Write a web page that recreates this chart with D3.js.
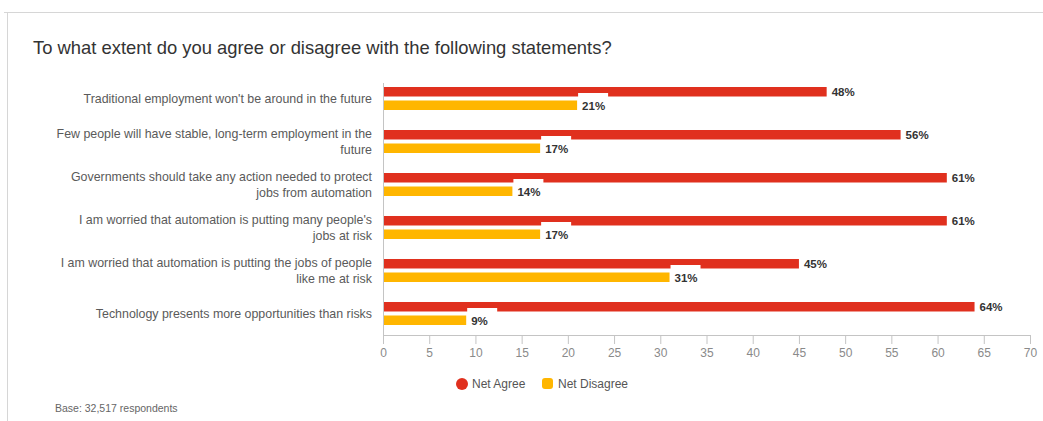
<!DOCTYPE html>
<html>
<head>
<meta charset="utf-8">
<script src="https://cdn.jsdelivr.net/npm/d3@7"></script>
<style>
  body { margin: 0; background: #fff; }
  svg { display: block; font-family: "Liberation Sans", Arial, sans-serif; }
</style>
</head>
<body>
<svg width="1043" height="421"></svg>
<script>
// statements, top to bottom
const statements = [
  ["Traditional employment won't be around in the future"],
  ["Few people will have stable, long-term employment in the", "future"],
  ["Governments should take any action needed to protect", "jobs from automation"],
  ["I am worried that automation is putting many people's", "jobs at risk"],
  ["I am worried that automation is putting the jobs of people", "like me at risk"],
  ["Technology presents more opportunities than risks"]
];
const netAgree = [48, 56, 61, 61, 45, 64];
const netDisagree = [21, 17, 14, 17, 31, 9];
const seriesNames = ["Net Agree", "Net Disagree"];
const seriesColors = ["#e0301e", "#ffb600"];
const xTicks = d3.range(0, 71, 5);

const svg = d3.select("svg");

// frame
svg.append("line").attr("x1", 4).attr("x2", 1043).attr("y1", 12.5).attr("y2", 12.5)
   .attr("stroke", "#d6d6d6");
svg.append("line").attr("x1", 7.5).attr("x2", 7.5).attr("y1", 12).attr("y2", 421)
   .attr("stroke", "#d6d6d6");

svg.append("text")
   .attr("x", 33).attr("y", 54)
   .attr("fill", "#333")
   .style("font-size", "18.4px")
   .text("To what extent do you agree or disagree with the following statements?");

const plotL = 383, plotT = 85, plotH = 250;
const x = d3.scaleLinear().domain([0, 70]).range([plotL, 1030]);
const y = d3.scaleBand().domain(d3.range(statements.length))
            .range([87, 325]).paddingInner(0.465).paddingOuter(0);

// x axis
const xAxis = svg.append("g")
   .attr("transform", `translate(0, ${plotT + plotH})`)
   .call(d3.axisBottom(x).tickValues(xTicks).tickSize(9).tickSizeOuter(0).tickPadding(4));
xAxis.select(".domain").attr("stroke", "#c4c4c4");
xAxis.selectAll(".tick line").attr("stroke", "#c4c4c4");
xAxis.selectAll(".tick text").attr("fill", "#8a8a8a").style("font-size", "12px")
     .style("font-family", "'Liberation Sans', Arial, sans-serif");

// y axis line
svg.append("line").attr("x1", plotL + 0.5).attr("x2", plotL + 0.5)
   .attr("y1", plotT - 2).attr("y2", plotT + plotH).attr("stroke", "#c4c4c4");

const barH = 9.5, gap = 4;
const groups = svg.selectAll(".grp").data(statements).enter().append("g")
   .attr("class", "grp")
   .attr("transform", (d, i) => `translate(0, ${y(i)})`);

// category labels
groups.append("text")
   .attr("x", 372)
   .attr("text-anchor", "end")
   .attr("fill", "#5a5a5a")
   .style("font-size", "12.4px")
   .each(function(d) {
     const t = d3.select(this);
     const c = barH + gap / 2;
     const lh = 16;
     d.forEach((line, k) => {
       t.append("tspan").attr("x", 372)
        .attr("y", c + (k - (d.length - 1) / 2) * lh)
        .attr("dy", "0.35em").text(line);
     });
   });

const vals = [netAgree, netDisagree];
vals.forEach((arr, s) => {
  const yOff = s * (barH + gap);
  groups.append("rect")
     .attr("x", x(0) + 1)
     .attr("y", yOff)
     .attr("width", (d, i) => x(arr[i]) - x(0) - 1)
     .attr("height", barH)
     .attr("fill", seriesColors[s]);
});
vals.forEach((arr, s) => {
  const yOff = s * (barH + gap);
  // white label boxes (show as notches in the bars)
  groups.append("rect")
     .attr("x", (d, i) => x(arr[i]) + 1)
     .attr("y", yOff - 7.5)
     .attr("width", 30).attr("height", 4)
     .attr("fill", "#fff");
  groups.append("text")
     .attr("x", (d, i) => x(arr[i]) + 5)
     .attr("y", yOff + barH / 2)
     .attr("dy", "0.38em")
     .attr("fill", "#333")
     .style("font-size", "11.5px")
     .style("font-weight", "bold")
     .text((d, i) => arr[i] + "%");
});

// legend
const leg = svg.append("g").attr("transform", "translate(462, 384)");
leg.append("circle").attr("cx", 0).attr("cy", 0).attr("r", 6).attr("fill", seriesColors[0]);
leg.append("text").attr("x", 10).attr("y", 0).attr("dy", "0.35em")
   .attr("fill", "#555").style("font-size", "12px").text(seriesNames[0]);
leg.append("rect").attr("x", 80).attr("y", -6).attr("width", 11).attr("height", 11)
   .attr("rx", 3).attr("fill", seriesColors[1]);
leg.append("text").attr("x", 96).attr("y", 0).attr("dy", "0.35em")
   .attr("fill", "#555").style("font-size", "12px").text(seriesNames[1]);

svg.append("text").attr("x", 55).attr("y", 412)
   .attr("fill", "#666").style("font-size", "10.5px")
   .text("Base: 32,517 respondents");
</script>
</body>
</html>
